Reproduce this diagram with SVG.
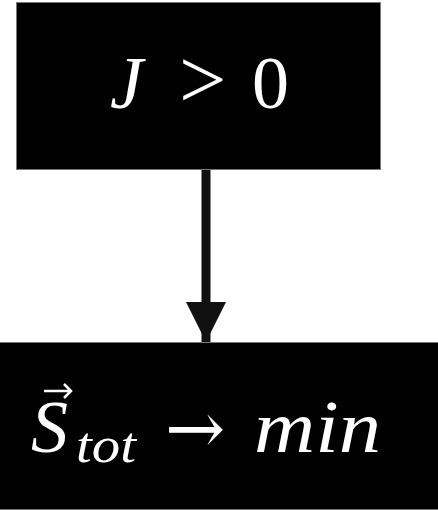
<svg xmlns="http://www.w3.org/2000/svg" width="438" height="513" viewBox="0 0 438 513">
<style>
.box{fill:#000;stroke:#777;stroke-width:1}
.t{fill:#fff;font-family:"Liberation Serif","DejaVu Serif",serif}
.i{font-style:italic}
.dv{font-family:"DejaVu Serif",serif;font-weight:normal}
.edge{stroke:#111;stroke-width:9;fill:none}
</style>
<defs>
<marker id="ah" markerUnits="userSpaceOnUse" markerWidth="46" markerHeight="40" refX="46" refY="23" viewBox="0 0 46 46" orient="auto">
<path d="M0,0 L46,23 L0,46 Z" fill="#111"/>
</marker>
</defs>
<rect width="438" height="513" fill="#fff"/>
<g id="connectors">
<line class="edge" x1="206" y1="170" x2="206" y2="342" marker-end="url(#ah)"/>
</g>
<g id="node-top">
<rect class="box" x="16.5" y="2.5" width="364" height="167"/>
<text class="t" y="108" font-size="74"><tspan class="i" x="110">J</tspan><tspan x="179" font-size="84">&gt;</tspan><tspan x="252">0</tspan></text>
</g>
<g id="node-bottom">
<rect class="box" x="-1" y="342.5" width="440" height="167"/>
<text class="t" font-size="74"><tspan class="i" x="31" y="452">S</tspan><tspan class="i" x="76" y="462" font-size="50" textLength="60" lengthAdjust="spacingAndGlyphs">tot</tspan><tspan class="dv" x="165" y="453" font-size="72">→</tspan><tspan class="i" x="254" y="452" textLength="127" lengthAdjust="spacingAndGlyphs">min</tspan></text>
<path d="M44,391 L70,391 M64,384 L71,391 L64,398" stroke="#fff" stroke-width="2.5" fill="none"/>
</g>
</svg>
